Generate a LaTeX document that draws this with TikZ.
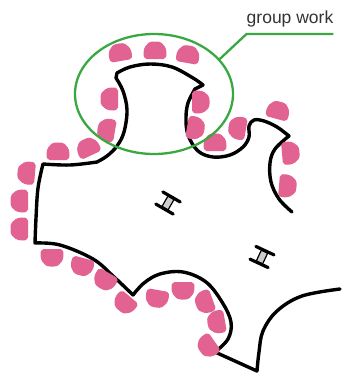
\documentclass[tikz,border=0pt]{standalone}
\usepackage{fontspec}
\setmainfont{Liberation Sans}
\usetikzlibrary{shapes.geometric}
\definecolor{seatpink}{RGB}{226, 98, 146}
\definecolor{grpgreen}{RGB}{58, 168, 66}
\definecolor{labelgray}{RGB}{51, 51, 51}
\tikzstyle{wall} = [draw, line width=3.4pt, line join=round, line cap=round]
\tikzstyle{seat} = [fill=seatpink, rounded corners=2pt]
\tikzstyle{group} = [draw=grpgreen, line width=2.3pt]
\tikzstyle{bar} = [draw, line width=3.2pt, line cap=round]

% one seat: x, y, direction the round back points to
\newcommand{\seat}[3]{%
  \fill[seat, shift={(#1,#2)}, rotate=#3]
    (-8,-10.5) .. controls (1,-13) and (9.5,-9) .. (9.5,0)
    .. controls (9.5,9) and (1,13) .. (-8,10.5) -- cycle;}
% projector: x, y, tilt of the bars
\newcommand{\proj}[3]{%
  \begin{scope}[shift={(#1,#2)}, rotate=#3]
    \filldraw[fill=black!20, line width=1.2pt] (-3.5,-6) rectangle (3.5,6);
    \path[bar] (-10,-7) -- (10,-7) (-10,7) -- (10,7);
  \end{scope}}

\begin{document}
\begin{tikzpicture}[x=1pt, y=-1pt]
  \useasboundingbox (0,0) rectangle (342,375);

  % ============================== Walls =======================================

  \draw[wall]
    plot[smooth, tension=0.6] coordinates {(292,212) (279,199) (271,182) (270,163) (275,149) (289,136)}
    -- plot[smooth, tension=0.6] coordinates {(289,136) (277,127) (264,121) (254,120) (249,126)
       (249,137) (243,147) (230,155) (213,157) (198,151) (188,135) (186,118) (188,103) (195,89)}
    -- (203,85)
    -- plot[smooth, tension=0.6] coordinates {(203,85) (193,78) (172,67) (150,64) (130,67) (117,73)}
    -- plot[smooth, tension=0.6] coordinates {(116,78) (123,91) (127,110) (124,132) (117,146) (107,156) (97,162)}
    -- plot[smooth, tension=0.6] coordinates {(97,162) (70,165) (43,164)}
    -- plot[smooth, tension=0.6] coordinates {(43,164) (38,188) (36,218) (35,243)}
    -- plot[smooth, tension=0.6] coordinates {(35,243) (60,245) (93,259) (113,276) (133,295)}
    -- plot[smooth, tension=0.6] coordinates {(133,295) (144,283) (160,274) (183,272) (206,282)
       (222,302) (231,322) (228,339) (215,352)}
    -- (257,371)
    -- plot[smooth, tension=0.6] coordinates {(257,371) (259,352) (263,331) (277,311) (302,296) (340,289)};

  % ============================== Seats =======================================

  % group work corner
  \seat{120}{53}{100}
  \seat{155}{51}{90}
  \seat{188}{55}{80}
  \seat{110}{99}{180}
  \seat{107}{130}{170}
  \seat{200}{102}{0}
  \seat{195}{128}{-10}
  \seat{215}{143}{90}
  \seat{238}{128}{170}

  % left wall
  \seat{58}{152}{90}
  \seat{88}{148}{115}
  \seat{27}{173}{175}
  \seat{20}{201}{180}
  \seat{20}{229}{180}

  % lower wall
  \seat{52}{257}{270}
  \seat{82}{266}{255}
  \seat{105}{280}{240}
  \seat{125}{303}{230}
  \seat{157}{298}{260}
  \seat{183}{290}{270}
  \seat{205}{302}{200}
  \seat{217}{322}{190}
  \seat{208}{346}{215}

  % right wall
  \seat{278}{111}{75}
  \seat{290}{153}{5}
  \seat{287}{186}{-5}

  % ============================ Projectors ====================================

  \proj{168}{203}{-30}
  \proj{262}{257}{-25}

  % ============================ Group work ====================================

  \node[group, ellipse, minimum width=158pt, minimum height=120pt, inner sep=0pt] (grp) at (154,94) {};
  \node[text=labelgray, font=\fontsize{17.5}{20}\selectfont, inner sep=0pt, anchor=base] (lbl) at (290,23) {group work};
  \draw[group] (grp.28) -- ([yshift=-11pt]lbl.base west) -- ([yshift=-11pt]lbl.base east);

\end{tikzpicture}
\end{document}
